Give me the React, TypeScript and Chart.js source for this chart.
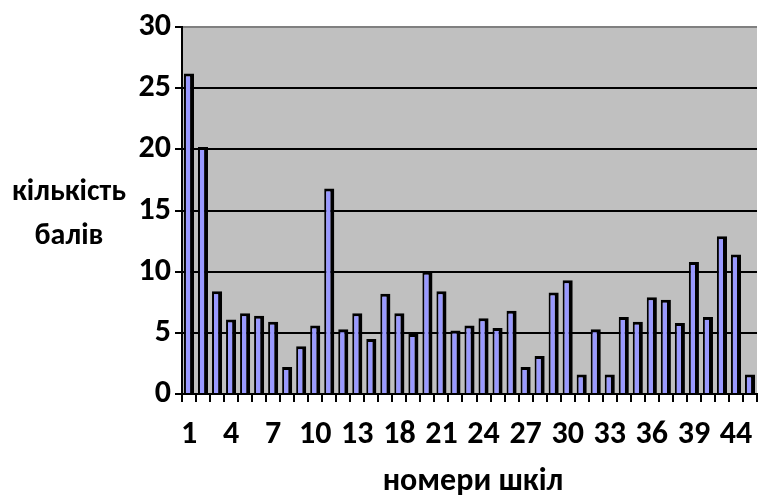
import React, { useEffect, useRef } from 'react';
import { Chart, registerables } from 'chart.js';
Chart.register(...registerables);

const schoolNumbers = ['1','2','3','4','5','6','7','8','9','10','11','12','13','14','16','18','19','20','21','22','23','24','25','26','27','28','29','30','31','32','33','34','35','36','37','38','39','40','42','44','45'];
const scores = [26.2, 20.2, 8.4, 6.1, 6.6, 6.4, 5.9, 2.2, 3.9, 5.6, 16.8, 5.3, 6.6, 4.5, 8.2, 6.6, 4.9, 10.0, 8.4, 5.2, 5.6, 6.2, 5.4, 6.8, 2.2, 3.1, 8.3, 9.3, 1.6, 5.3, 1.6, 6.3, 5.9, 7.9, 7.7, 5.8, 10.8, 6.3, 12.9, 11.4, 1.6];
const yTitleLines = ['кількість', 'балів'];
const xTitle = 'номери шкіл';

const FONT = 'Carlito, "Open Sans", sans-serif';

export default function App() {
  const ref = useRef<HTMLCanvasElement>(null);
  useEffect(() => {
    document.body.style.margin = '0';
    let chart: any = null;
    let cancelled = false;
    const bg = {
      id: 'bg',
      beforeDraw(c: any) {
        const { ctx, chartArea: a } = c;
        ctx.save();
        ctx.fillStyle = '#ffffff';
        ctx.fillRect(0, 0, c.width, c.height);
        ctx.fillStyle = '#C0C0C0';
        ctx.fillRect(a.left, a.top, a.right - a.left, a.bottom - a.top);
        ctx.restore();
      },
    };
    const titles = {
      id: 'titles',
      afterDraw(c: any) {
        const { ctx } = c;
        ctx.save();
        ctx.fillStyle = '#000';
        ctx.textAlign = 'center';
        ctx.textBaseline = 'middle';
        ctx.font = `700 30px ${FONT}`;
        ctx.fillText(yTitleLines[0], 69, 192);
        ctx.fillText(yTitleLines[1], 69, 236);
        ctx.font = `700 32px ${FONT}`;
        ctx.fillText(xTitle, 473, 482);
        ctx.restore();
      },
    };
    const build = () => {
      if (cancelled || !ref.current) return;
      chart = new Chart(ref.current, {
        type: 'bar',
        data: {
          labels: schoolNumbers,
          datasets: [
            {
              data: scores,
              backgroundColor: '#9999FF',
              borderColor: '#000000',
              borderWidth: { top: 3, left: 2, right: 4, bottom: 0 },
              borderSkipped: false,
              barPercentage: 0.72,
              categoryPercentage: 1,
            },
          ],
        },
        options: {
          animation: false,
          responsive: true,
          maintainAspectRatio: false,
          layout: { padding: { top: 27, left: 0, right: 0, bottom: 0 } },
          plugins: { legend: { display: false }, tooltip: { enabled: false } },
          scales: {
            x: {
              offset: true,
              afterFit(scale: any) { scale.height = 107; },
              grid: {
                offset: true,
                drawOnChartArea: false,
                drawTicks: true,
                tickLength: 8,
                color: '#000',
                lineWidth: 2,
              },
              border: { display: true, color: '#000', width: 2 },
              ticks: {
                autoSkip: false,
                maxRotation: 0,
                minRotation: 0,
                padding: 14,
                color: '#000',
                font: { family: FONT, size: 32, weight: 700 },
                callback: (_v: any, i: number) => (i % 3 === 0 ? schoolNumbers[i] : ''),
              },
            },
            y: {
              min: 0,
              max: 30,
              afterFit(scale: any) { scale.width = 182; },
              grid: {
                color: (c: any) => (c.tick && c.tick.value === 30 ? '#808080' : '#000'),
                lineWidth: 2,
                tickLength: 7,
                tickColor: '#000',
              },
              border: { display: true, color: '#000', width: 2 },
              ticks: {
                stepSize: 5,
                padding: 4,
                color: '#000',
                font: { family: FONT, size: 32, weight: 700 },
              },
            },
          },
        },
        plugins: [bg, titles],
      });
    };
    const fonts: any = (document as any).fonts;
    if (fonts && fonts.load) {
      Promise.all([
        fonts.load(`700 32px ${FONT}`, '0123456789'),
        fonts.load(`700 30px ${FONT}`, 'номери шкіл кількість балів'),
      ]).then(build, build);
    } else {
      build();
    }
    return () => {
      cancelled = true;
      if (chart) chart.destroy();
    };
  }, []);
  return (
    <div style={{ position: 'relative', width: 764, height: 501 }}>
      <canvas ref={ref} />
    </div>
  );
}
